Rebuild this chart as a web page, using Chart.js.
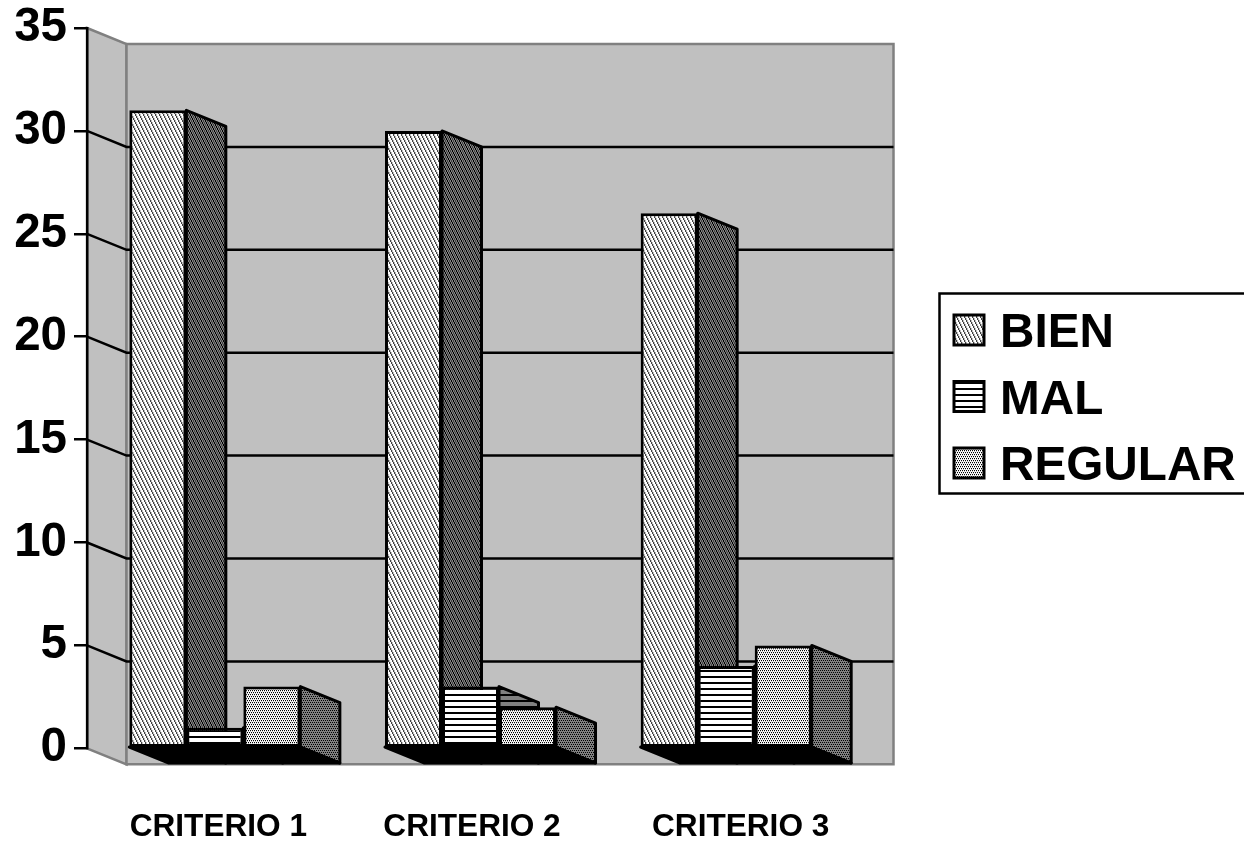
<!DOCTYPE html>
<html>
<head>
<meta charset="utf-8">
<title>Criterios</title>
<script src="https://cdn.jsdelivr.net/npm/chart.js@4"></script>
<style>
    html, body { margin: 0; padding: 0; background: #fff; }
    canvas { display: block; }
</style>
</head>
<body>
<canvas id="chart" width="1244" height="844"></canvas>
<script>
const categories = ['CRITERIO 1', 'CRITERIO 2', 'CRITERIO 3'];
const bienValues = [31, 30, 26];
const malValues = [1, 3, 4];
const regularValues = [3, 2, 5];
const yTicks = [0, 5, 10, 15, 20, 25, 30, 35];

// the category captions sit a little right of each group's centre
const captionNudge = [3.5, 1.5, 14.5];

const FONT = '"Liberation Sans", Arial, sans-serif';
const depthX = 39.5;
const depthY = 16;

const swatchColors = { w: '#ffffff', k: '#000000', g: '#808080', l: '#c0c0c0', d: '#404040' };

// Builds a repeating fill from rows of colour letters
const makePattern = (rows) => {
    const tile = document.createElement('canvas');
    tile.width = rows[0].length;
    tile.height = rows.length;
    const tctx = tile.getContext('2d');
    rows.forEach((row, y) => {
        [...row].forEach((c, x) => {
            tctx.fillStyle = swatchColors[c];
            tctx.fillRect(x, y, 1, 1);
        });
    });
    return tctx.createPattern(tile, 'repeat');
};

// Diagonal hatch: the same row shifted one pixel every couple of lines
const hatchRows = (row) => {
    const rows = [];
    for (let i = 0; i < row.length; i++) {
        const s = row.slice(row.length - i) + row.slice(0, row.length - i);
        rows.push(s, s);
    }
    return rows;
};

const bienFront = makePattern(hatchRows('wwdl'));
const bienSide = makePattern(hatchRows('gkgd'));
const malFront = makePattern(['w', 'w', 'w', 'w', 'k', 'k']);
const malSide = makePattern(['g', 'g', 'g', 'g', 'k', 'k']);
const regularFront = makePattern(['wk', 'wl', 'kw', 'lw']);
const regularSide = makePattern(['gk', 'gg', 'kg', 'gg']);
const sideFills = [bienSide, malSide, regularSide];

// Walls of the box, behind the axis
const wallsPlugin = {
    id: 'walls',
    beforeDraw(chart) {
        const { ctx, chartArea: a } = chart;
        ctx.save();
        ctx.fillStyle = '#c0c0c0';
        ctx.strokeStyle = '#808080';
        ctx.lineWidth = 2.5;
        ctx.lineJoin = 'miter';

        ctx.beginPath();
        ctx.moveTo(a.left, a.top);
        ctx.lineTo(a.left + depthX, a.top + depthY);
        ctx.lineTo(a.left + depthX, a.bottom + depthY);
        ctx.lineTo(a.left, a.bottom);
        ctx.closePath();
        ctx.fill();
        ctx.stroke();

        ctx.beginPath();
        ctx.rect(a.left + depthX, a.top + depthY, a.right - a.left, a.bottom - a.top);
        ctx.fill();
        ctx.stroke();
        ctx.restore();
    }
};

// Wall gridlines, side face of every bar, then the floor shadow over their feet
const depthPlugin = {
    id: 'depth',
    beforeDatasetsDraw(chart) {
        const { ctx, chartArea: a, scales: { y } } = chart;
        ctx.save();
        ctx.strokeStyle = '#000';
        ctx.lineWidth = 2.5;
        yTicks.slice(1, -1).forEach((v) => {
            const py = y.getPixelForValue(v);
            ctx.beginPath();
            ctx.moveTo(a.left, py);
            ctx.lineTo(a.left + depthX, py + depthY);
            ctx.lineTo(a.right + depthX, py + depthY);
            ctx.stroke();
        });

        ctx.lineWidth = 3;
        ctx.lineJoin = 'round';
        const metas = chart.data.datasets.map((d, i) => chart.getDatasetMeta(i));
        categories.forEach((c, i) => {
            metas.forEach((meta, s) => {
                const bar = meta.data[i];
                const right = bar.x + bar.width / 2;
                ctx.fillStyle = sideFills[s];
                ctx.beginPath();
                ctx.moveTo(right, bar.y);
                ctx.lineTo(right + depthX, bar.y + depthY);
                ctx.lineTo(right + depthX, bar.base + depthY);
                ctx.lineTo(right, bar.base);
                ctx.closePath();
                ctx.fill();
                ctx.stroke();
            });

            const first = metas[0].data[i];
            const last = metas[metas.length - 1].data[i];
            const x0 = first.x - first.width / 2;
            const x1 = last.x + last.width / 2;
            ctx.fillStyle = '#000';
            ctx.beginPath();
            ctx.moveTo(x0, first.base);
            ctx.lineTo(x1, first.base);
            ctx.lineTo(x1 + depthX, first.base + depthY);
            ctx.lineTo(x0 + depthX, first.base + depthY);
            ctx.closePath();
            ctx.fill();
            ctx.stroke();
        });
        ctx.restore();
    }
};

// Category captions and the boxed legend
const labelsPlugin = {
    id: 'labels',
    afterDraw(chart) {
        const { ctx, scales: { x } } = chart;
        ctx.save();
        ctx.fillStyle = '#000';
        ctx.font = 'bold 31.6px ' + FONT;
        ctx.textAlign = 'center';
        ctx.textBaseline = 'alphabetic';
        categories.forEach((c, i) => {
            ctx.fillText(c, x.getPixelForTick(i) + captionNudge[i], 836);
        });

        ctx.strokeStyle = '#000';
        ctx.lineWidth = 2.5;
        ctx.strokeRect(939.5, 293.5, 320, 200);

        ctx.font = 'bold 47.7px ' + FONT;
        ctx.textAlign = 'left';
        chart.data.datasets.forEach((d, i) => {
            const top = 315 + i * 66.5;
            ctx.fillStyle = d.backgroundColor;
            ctx.fillRect(954, top, 30, 30);
            ctx.lineWidth = 3;
            ctx.strokeRect(954, top, 30, 30);
            ctx.fillStyle = '#000';
            ctx.fillText(d.label, 1000, top + 32);
        });
        ctx.restore();
    }
};

new Chart(document.getElementById('chart'), {
    type: 'bar',
    data: {
        labels: categories,
        datasets: [
            { label: 'BIEN', data: bienValues, backgroundColor: bienFront },
            { label: 'MAL', data: malValues, backgroundColor: malFront },
            { label: 'REGULAR', data: regularValues, backgroundColor: regularFront }
        ]
    },
    options: {
        responsive: false,
        animation: false,
        layout: { padding: { top: 28, right: 390, bottom: 87.7, left: 0 } },
        datasets: {
            bar: {
                barPercentage: 1,
                categoryPercentage: 0.669,
                borderColor: '#000',
                borderWidth: 3,
                borderSkipped: false
            }
        },
        plugins: {
            legend: { display: false },
            tooltip: { enabled: false }
        },
        scales: {
            x: {
                grid: { display: false },
                border: { display: false },
                ticks: { display: false }
            },
            y: {
                min: 0,
                max: 35,
                afterFit(scale) {
                    scale.width = 87;
                    // tick padding would otherwise push the plot area down
                    scale.paddingTop = 0;
                    scale.paddingBottom = 0;
                },
                afterBuildTicks(scale) { scale.ticks = yTicks.map((v) => ({ value: v })); },
                grid: { drawOnChartArea: false, color: '#000', lineWidth: 2.5, tickLength: 13 },
                border: { color: '#000', width: 2.5 },
                ticks: {
                    color: '#000',
                    padding: 7,
                    font: { family: FONT, size: 47.5, weight: 'bold', lineHeight: 1 }
                }
            }
        }
    },
    plugins: [wallsPlugin, depthPlugin, labelsPlugin]
});
</script>
</body>
</html>
